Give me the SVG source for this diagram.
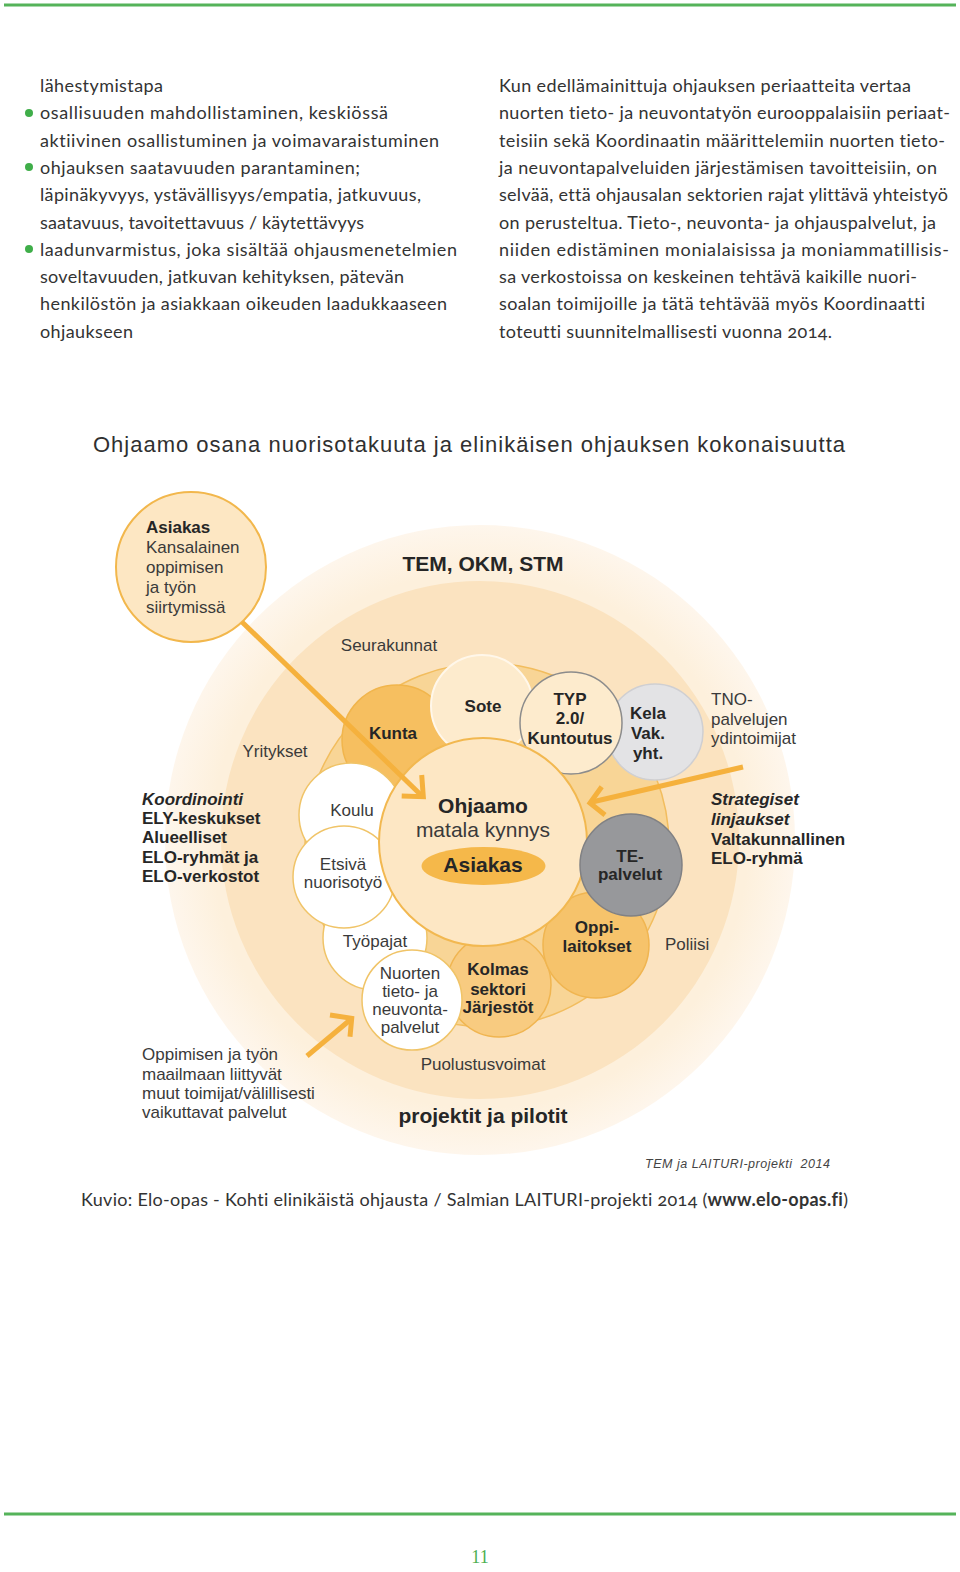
<svg xmlns="http://www.w3.org/2000/svg" width="960" height="1572" viewBox="0 0 960 1572">
<style>
.body{font-family:Lato,"Open Sans","Liberation Sans",sans-serif;font-size:18px;fill:#333;font-feature-settings:"onum";font-variant-ligatures:none;}
.d{font-family:"Liberation Sans",Arial,sans-serif;font-size:17px;fill:#3a3a3a;}
.b{font-weight:bold;fill:#262626;}
.i{font-style:italic;}
.m{text-anchor:middle;}
.big{font-size:21px;}
.title{font-size:22px;fill:#303030;}
.credit{font-size:12.5px;fill:#444;}
.arrow{stroke:#f5b13d;stroke-width:5;fill:none;stroke-linecap:butt;stroke-linejoin:miter;}
.wb{fill:#ffffff;stroke:#f0c468;stroke-width:1.5;}
.bullet{fill:#3fae49;}
.rule{stroke:#55b35a;stroke-width:3;}
</style>
<defs>
<radialGradient id="outerG" cx="480" cy="840" r="315" gradientUnits="userSpaceOnUse">
<stop offset="0.85" stop-color="#fdf0dc"/>
<stop offset="1" stop-color="#fef6ec"/>
</radialGradient>
</defs>
<rect width="960" height="1572" fill="#ffffff"/>
<line class="rule" x1="4" y1="5" x2="956" y2="5"/>
<line class="rule" x1="4" y1="1514" x2="956" y2="1514"/>

<g id="body-left">
<circle class="bullet" cx="29" cy="113" r="4"/>
<circle class="bullet" cx="29" cy="167" r="4"/>
<circle class="bullet" cx="29" cy="249" r="4"/>
<text class="body" x="40" y="92" textLength="123">lähestymistapa</text>
<text class="body" x="40" y="119.3" textLength="348">osallisuuden mahdollistaminen, keskiössä</text>
<text class="body" x="40" y="146.6" textLength="399">aktiivinen osallistuminen ja voimavaraistuminen</text>
<text class="body" x="40" y="173.9" textLength="320">ohjauksen saatavuuden parantaminen;</text>
<text class="body" x="40" y="201.2" textLength="381">läpinäkyvyys, ystävällisyys/empatia, jatkuvuus,</text>
<text class="body" x="40" y="228.5" textLength="324">saatavuus, tavoitettavuus / käytettävyys</text>
<text class="body" x="40" y="255.8" textLength="417">laadunvarmistus, joka sisältää ohjausmenetelmien</text>
<text class="body" x="40" y="283.1" textLength="364">soveltavuuden, jatkuvan kehityksen, pätevän</text>
<text class="body" x="40" y="310.4" textLength="407">henkilöstön ja asiakkaan oikeuden laadukkaaseen</text>
<text class="body" x="40" y="337.7" textLength="93">ohjaukseen</text>
</g>
<g id="body-right">
<text class="body" x="499" y="92" textLength="412">Kun edellämainittuja ohjauksen periaatteita vertaa</text>
<text class="body" x="499" y="119.3" textLength="451">nuorten tieto- ja neuvontatyön eurooppalaisiin periaat-</text>
<text class="body" x="499" y="146.6" textLength="446">teisiin sekä Koordinaatin määrittelemiin nuorten tieto-</text>
<text class="body" x="499" y="173.9" textLength="438">ja neuvontapalveluiden järjestämisen tavoitteisiin, on</text>
<text class="body" x="499" y="201.2" textLength="449">selvää, että ohjausalan sektorien rajat ylittävä yhteistyö</text>
<text class="body" x="499" y="228.5" textLength="437">on perusteltua. Tieto-, neuvonta- ja ohjauspalvelut, ja</text>
<text class="body" x="499" y="255.8" textLength="450">niiden edistäminen monialaisissa ja moniammatillisis-</text>
<text class="body" x="499" y="283.1" textLength="418">sa verkostoissa on keskeinen tehtävä kaikille nuori-</text>
<text class="body" x="499" y="310.4" textLength="426">soalan toimijoille ja tätä tehtävää myös Koordinaatti</text>
<text class="body" x="499" y="337.7" textLength="333">toteutti suunnitelmallisesti vuonna 2014.</text>
</g>

<text id="title" class="d title" x="93" y="452" textLength="752">Ohjaamo osana nuorisotakuuta ja elinikäisen ohjauksen kokonaisuutta</text>

<g id="ring-outer">
<circle cx="480" cy="840" r="315" fill="url(#outerG)"/>
<text class="d b m big" x="483" y="571">TEM, OKM, STM</text>
<text class="d b m big" x="483" y="1123">projektit ja pilotit</text>
</g>
<g id="ring-middle">
<circle cx="480" cy="840" r="259" fill="#fbe3c0"/>
<text class="d m" x="389" y="651">Seurakunnat</text>
<text class="d m" x="275" y="757">Yritykset</text>
<text class="d" x="665" y="950">Poliisi</text>
<text class="d m" x="483" y="1070">Puolustusvoimat</text>
</g>
<g id="ring-inner">
<circle cx="487" cy="845" r="182" fill="#f8d596" stroke="#f2bd5e" stroke-width="1.5"/>
</g>

<g id="node-kunta">
<circle cx="397" cy="740" r="55" fill="#f6bf60" stroke="#f1b54c" stroke-width="1.5"/>
<text class="d b m" x="393" y="739">Kunta</text>
</g>
<g id="node-sote">
<circle cx="482" cy="706" r="51" fill="#fdebcd" stroke="#fff7ea" stroke-width="2"/>
<text class="d b m" x="483" y="712">Sote</text>
</g>
<g id="node-kela">
<circle cx="655" cy="732" r="48" fill="#e3e3e5" stroke="#cfcfd2" stroke-width="1.5"/>
<text class="d b m" x="648" y="719">Kela</text>
<text class="d b m" x="648" y="739">Vak.</text>
<text class="d b m" x="648" y="759">yht.</text>
</g>
<g id="node-typ">
<circle cx="571" cy="723" r="51" fill="#fdebcd" stroke="#8c8c8c" stroke-width="1.5"/>
<text class="d b m" x="570" y="705">TYP</text>
<text class="d b m" x="570" y="724">2.0/</text>
<text class="d b m" x="570" y="744">Kuntoutus</text>
</g>
<g id="node-koulu">
<circle class="wb" cx="351" cy="815" r="52"/>
<text class="d m" x="352" y="816">Koulu</text>
</g>
<g id="node-tyopajat">
<circle class="wb" cx="375" cy="938" r="52"/>
<text class="d m" x="375" y="947">Työpajat</text>
</g>
<g id="node-etsiva">
<circle class="wb" cx="344" cy="877" r="51"/>
<text class="d m" x="343" y="870">Etsivä</text>
<text class="d m" x="343" y="888">nuorisotyö</text>
</g>
<g id="node-kolmas">
<circle cx="499" cy="985" r="52" fill="#f8cb80" stroke="#f0b550" stroke-width="1.5"/>
<text class="d b m" x="498" y="975">Kolmas</text>
<text class="d b m" x="498" y="995">sektori</text>
<text class="d b m" x="498" y="1013">Järjestöt</text>
</g>
<g id="node-nuorten">
<circle class="wb" cx="412" cy="1000" r="50"/>
<text class="d m" x="410" y="979">Nuorten</text>
<text class="d m" x="410" y="997">tieto- ja</text>
<text class="d m" x="410" y="1015">neuvonta-</text>
<text class="d m" x="410" y="1033">palvelut</text>
</g>
<g id="node-oppilaitokset">
<circle cx="596" cy="945" r="53" fill="#f6c36b" stroke="#f0b550" stroke-width="1.5"/>
<text class="d b m" x="597" y="933">Oppi-</text>
<text class="d b m" x="597" y="952">laitokset</text>
</g>
<g id="node-ohjaamo">
<circle cx="483" cy="842" r="104" fill="#fde7c4" stroke="#f2b850" stroke-width="2"/>
<text class="d b m big" x="483" y="813">Ohjaamo</text>
<text class="d m big" x="483" y="837">matala kynnys</text>
<ellipse cx="483.5" cy="866" rx="62" ry="19" fill="#f5b84a"/>
<text class="d b m big" x="483" y="872">Asiakas</text>
</g>
<g id="node-te">
<circle cx="631" cy="865" r="51" fill="#97989b" stroke="#808184" stroke-width="1.5"/>
<text class="d b m" x="630" y="862">TE-</text>
<text class="d b m" x="630" y="880">palvelut</text>
</g>

<g id="node-asiakas">
<circle cx="191" cy="567" r="75" fill="#fde7c3" stroke="#f2b74c" stroke-width="2"/>
<text class="d b" x="146" y="533">Asiakas</text>
<text class="d" x="146" y="553">Kansalainen</text>
<text class="d" x="146" y="573">oppimisen</text>
<text class="d" x="146" y="593">ja työn</text>
<text class="d" x="146" y="613">siirtymissä</text>
</g>

<g id="label-tno">
<text class="d" x="711" y="705">TNO-</text>
<text class="d" x="711" y="725">palvelujen</text>
<text class="d" x="711" y="744">ydintoimijat</text>
</g>
<g id="label-strategiset">
<text class="d b i" x="711" y="805">Strategiset</text>
<text class="d b i" x="711" y="825">linjaukset</text>
<text class="d b" x="711" y="845">Valtakunnallinen</text>
<text class="d b" x="711" y="864">ELO-ryhmä</text>
</g>
<g id="label-koordinointi">
<text class="d b i" x="142" y="805">Koordinointi</text>
<text class="d b" x="142" y="824">ELY-keskukset</text>
<text class="d b" x="142" y="843">Alueelliset</text>
<text class="d b" x="142" y="863">ELO-ryhmät ja</text>
<text class="d b" x="142" y="882">ELO-verkostot</text>
</g>
<g id="label-oppimisen">
<text class="d" x="142" y="1060">Oppimisen ja työn</text>
<text class="d" x="142" y="1080">maailmaan liittyvät</text>
<text class="d" x="142" y="1099">muut toimijat/välillisesti</text>
<text class="d" x="142" y="1118">vaikuttavat palvelut</text>
</g>

<g id="connectors">
<path class="arrow" d="M242,622 L421,795"/>
<polyline class="arrow" points="421.7,775 423.3,796.7 401.7,796"/>
<path class="arrow" d="M743,767 L592,802"/>
<polyline class="arrow" points="601.7,786.7 590,803 605,815"/>
<path class="arrow" d="M307,1056 L350,1020"/>
<polyline class="arrow" points="330,1015 351.7,1018.3 350,1036.7"/>
</g>

<text id="credit" class="d i credit" x="645" y="1168" textLength="185">TEM ja LAITURI-projekti&#160; 2014</text>
<text id="caption" class="body" x="81" y="1206" textLength="767">Kuvio: Elo-opas - Kohti elinikäistä ohjausta / Salmian LAITURI-projekti 2014 (<tspan font-weight="bold">www.elo-opas.fi</tspan>)</text>
<text id="page-number" x="480" y="1563" text-anchor="middle" font-family="'Liberation Serif',serif" font-size="18" fill="#4caf50">11</text>
</svg>
